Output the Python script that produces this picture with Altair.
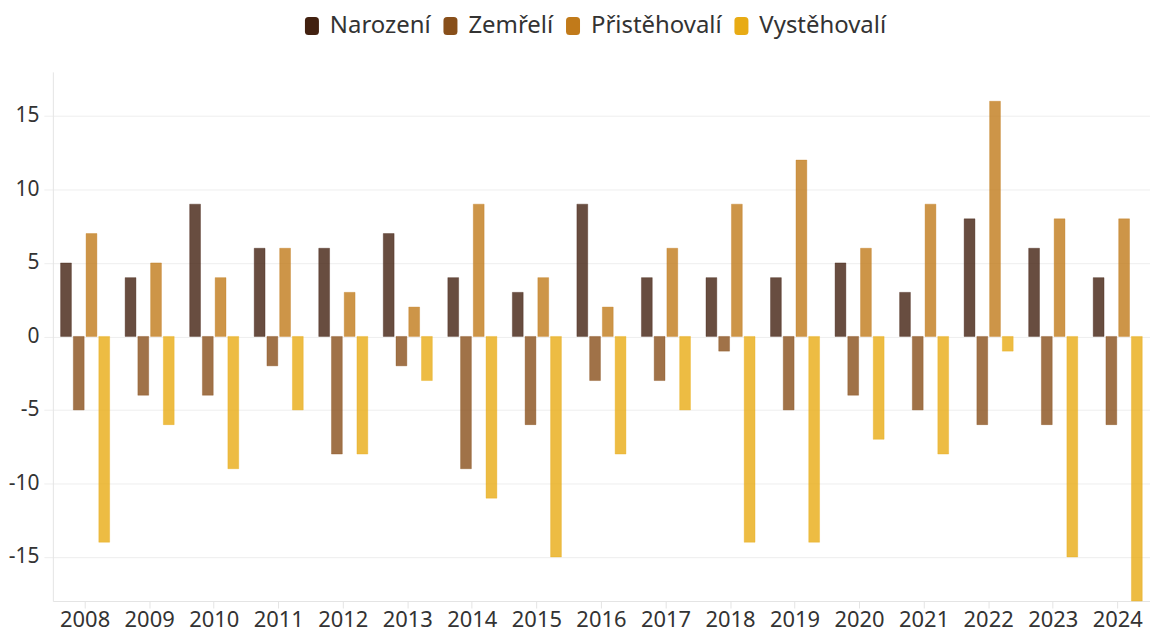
import altair as alt
import pandas as pd

years = [str(y) for y in range(2008, 2025)]
series = ["Narození", "Zemřelí", "Přistěhovalí", "Vystěhovalí"]
narozeni = [5, 4, 9, 6, 6, 7, 4, 3, 9, 4, 4, 4, 5, 3, 8, 6, 4]
zemreli = [-5, -4, -4, -2, -8, -2, -9, -6, -3, -3, -1, -5, -4, -5, -6, -6, -6]
pristehovali = [7, 5, 4, 6, 3, 2, 9, 4, 2, 6, 9, 12, 6, 9, 16, 8, 8]
vystehovali = [-14, -6, -9, -5, -8, -3, -11, -15, -8, -5, -14, -14, -7, -8, -1, -15, -18]
colors = ["#422110", "#884f1a", "#c17a1a", "#e8ab14"]

rows = []
for name, vals in zip(series, [narozeni, zemreli, pristehovali, vystehovali]):
    for y, v in zip(years, vals):
        rows.append({"rok": y, "serie": name, "hodnota": v})
df = pd.DataFrame(rows)

FONT = "Noto Sans"
symbol_path = ("M-0.38,-1 L0.38,-1 Q0.78,-1 0.78,-0.6 L0.78,0.6 Q0.78,1 0.38,1 "
               "L-0.38,1 Q-0.78,1 -0.78,0.6 L-0.78,-0.6 Q-0.78,-1 -0.38,-1 Z")

chart = alt.Chart(df).mark_bar(
    fillOpacity=0.8, strokeWidth=1, strokeOpacity=0.35
).encode(
    x=alt.X("rok:N", title=None, sort=years,
            scale=alt.Scale(paddingInner=0.24, paddingOuter=0.12),
            axis=alt.Axis(labelAngle=0, labelFontSize=22, labelFont=FONT,
                          labelColor="#333333", domainColor="#e4e4e4",
                          tickColor="#e4e4e4", tickSize=7, labelPadding=2,
                          grid=False)),
    xOffset=alt.XOffset("serie:N", sort=series,
                        scale=alt.Scale(paddingInner=0.15)),
    y=alt.Y("hodnota:Q", title=None,
            scale=alt.Scale(domain=[-18, 18], nice=False),
            axis=alt.Axis(values=[-15, -10, -5, 0, 5, 10, 15],
                          labelExpr="'' + datum.value",
                          labelFontSize=21, labelFont=FONT,
                          labelColor="#333333", domainColor="#e4e4e4",
                          tickColor="#eeeeee", tickSize=9, labelPadding=5,
                          gridColor="#eeeeee")),
    color=alt.Color("serie:N", sort=series, title=None,
                    scale=alt.Scale(domain=series, range=colors),
                    legend=alt.Legend(orient="none", legendX=248, legendY=-58,
                                      direction="horizontal",
                                      symbolType=symbol_path, symbolSize=324,
                                      symbolOpacity=1, symbolStrokeWidth=0,
                                      labelFont=FONT, labelFontSize=24,
                                      labelColor="#333333", labelOffset=6,
                                      columnPadding=7)),
    stroke=alt.Color("serie:N", sort=series, legend=None,
                     scale=alt.Scale(domain=series, range=colors)),
).properties(
    width=1101, height=531, padding={"left": 0, "top": 5, "right": 0, "bottom": 2}
).configure_view(stroke=None)

chart.save("out.html", embed_options={"renderer": "svg", "actions": False})
